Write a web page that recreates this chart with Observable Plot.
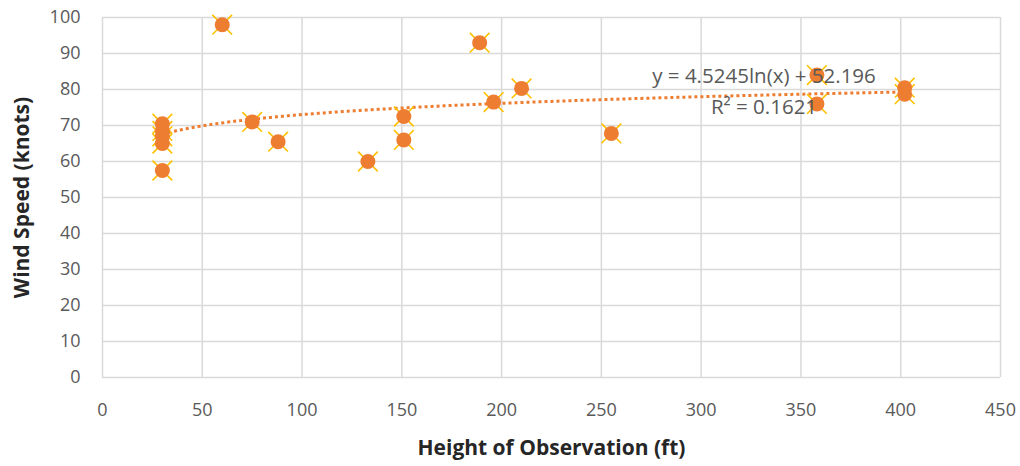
<!DOCTYPE html>
<html><head><meta charset="utf-8">
<script src="https://cdn.jsdelivr.net/npm/d3@7"></script>
<script src="https://cdn.jsdelivr.net/npm/@observablehq/plot@0.6"></script>
<style>
body{margin:0;background:#fff;}
#chart svg{display:block;}
</style>
</head><body><div id="chart"></div>
<script>
const heights = [30, 30, 30, 30, 30, 60, 75, 88, 133, 151, 151, 189, 196, 210, 255, 358, 358, 402, 402];
const speeds  = [70.5, 68.5, 67, 65, 57.5, 98, 71, 65.5, 60, 72.5, 66, 93, 76.5, 80.3, 67.8, 84, 76, 80.5, 78.7];
const xTicks = [0, 50, 100, 150, 200, 250, 300, 350, 400, 450];
const yTicks = [0, 10, 20, 30, 40, 50, 60, 70, 80, 90, 100];
const trendA = 4.5245, trendB = 52.196;
const eqLabels = ["y = 4.5245ln(x) + 52.196", "R² = 0.1621"];
const eqX = [331.5, 331.5];
const eqY = [83.6, 75];

const pts = heights.map((h, i) => ({h, s: speeds[i]}));
const xMin = d3.min(heights), xMax = d3.max(heights);
const trend = d3.range(xMin, xMax + 0.5, 1).map(x => ({x, y: trendA * Math.log(x) + trendB}));
const ann = eqLabels.map((t, i) => ({t, x: eqX[i], y: eqY[i]}));

const font = "'Open Sans', Lato, sans-serif";
const chart = Plot.plot({
  width: 1020, height: 466,
  marginLeft: 102, marginRight: 20, marginTop: 17, marginBottom: 89,
  style: {fontFamily: font, fontSize: "18px", color: "#595959", background: "#fff"},
  x: {domain: [0, 450], ticks: xTicks, label: null},
  y: {domain: [0, 100], ticks: yTicks, label: null},
  marks: [
    Plot.gridX(xTicks, {stroke: "#d9d9d9", strokeOpacity: 1, strokeWidth: 1.5}),
    Plot.gridY(yTicks, {stroke: "#d9d9d9", strokeOpacity: 1, strokeWidth: 1.5}),
    Plot.axisX(xTicks, {tickSize: 0, tickPadding: 26, fontSize: 18, fill: "#595959", label: null}),
    Plot.axisY(yTicks, {tickSize: 0, tickPadding: 22, fontSize: 18, fill: "#595959", label: null}),
    Plot.line(trend, {x: "x", y: "y", stroke: "#ED7D31", strokeWidth: 3, strokeDasharray: "3 3", strokeLinecap: "butt"}),
    Plot.dot(pts, {x: "h", y: "s", symbol: "times", r: 9, stroke: "#FFC000", strokeWidth: 1.6}),
    Plot.dot(pts, {x: "h", y: "s", r: 7.5, fill: "#ED7D31", stroke: "none"}),
    Plot.text(ann, {x: "x", y: "y", text: "t", fontSize: 20.5, fill: "#595959", textAnchor: "middle"}),
    Plot.text(["Height of Observation (ft)"], {frameAnchor: "bottom", dy: 77, fontSize: 21, fontWeight: "bold", fill: "#262626"}),
    Plot.text(["Wind Speed (knots)"], {frameAnchor: "left", dx: -80, rotate: -90, textAnchor: "middle", fontSize: 21, fontWeight: "bold", fill: "#262626"})
  ]
});
document.getElementById("chart").appendChild(chart);
</script>
</body></html>
